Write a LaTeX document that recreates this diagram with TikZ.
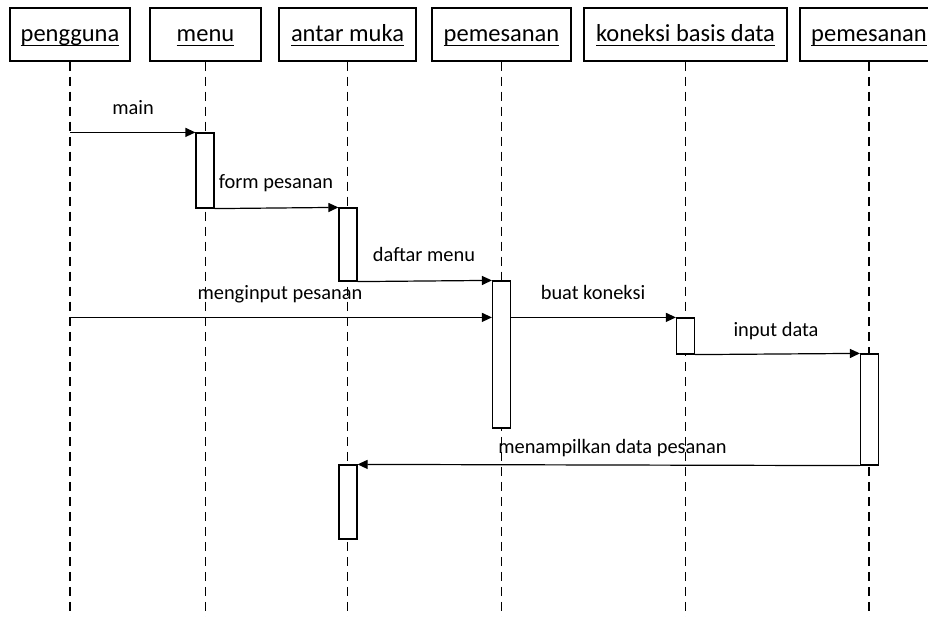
\documentclass[tikz,border=0pt]{standalone}
\usepackage{fontspec}
\setmainfont{Carlito}
\usetikzlibrary{arrows.meta}
\newcommand{\hdrtext}[1]{\setbox0\hbox{#1}\rlap{\rule[-4pt]{\wd0}{1.2pt}}\box0}
\begin{document}
\begin{tikzpicture}[x=1pt, y=-1pt, line width=1.2pt]
        \tikzset{>={Triangle[length=10pt,width=9pt]}}
        \tikzset{obj/.style={draw, rectangle, minimum height=53pt, inner sep=0pt, line width=1.5pt,
                 text height=18pt, text depth=3pt, font=\fontsize{24.5}{28}\selectfont}}
        \tikzset{act/.style={draw, fill=white, rectangle, minimum width=18pt, inner sep=0pt}}
        \tikzset{msg/.style={anchor=base, inner sep=0pt, font=\fontsize{20.4}{24}\selectfont}}
        \tikzset{life/.style={dash pattern=on 9pt off 6pt}}
        \clip (0,0) rectangle (928,617);
        % objects
        \node[obj, minimum width=120pt] (pengguna) at (70,34.5) {\hdrtext{pengguna}};
        \node[obj, minimum width=111pt] (menu) at (205.5,34.5) {\hdrtext{menu}};
        \node[obj, minimum width=137pt] (antarmuka) at (347.5,34.5) {\hdrtext{antar muka}};
        \node[obj, minimum width=139pt] (pemesanan) at (501.5,34.5) {\hdrtext{pemesanan}};
        \node[obj, minimum width=203pt] (koneksi) at (685.5,34.5) {\hdrtext{koneksi basis data}};
        \node[obj, minimum width=138pt] (pemesananb) at (869,34.5) {\hdrtext{pemesanan}};
        % lifelines
        \foreach \o in {pengguna, menu, antarmuka, pemesanan, koneksi, pemesananb}
            \draw[life] (\o.south) -- (\o.south |- 0,620);
        % activations
        \node[act, minimum height=75pt] (actmenu) at (205,170.5) {};
        \node[act, minimum height=73pt] (actantar) at (348,244.5) {};
        \node[act, minimum height=147pt] (actpesan) at (501.5,354.5) {};
        \node[act, minimum height=36pt] (actkoneksi) at (685.5,336) {};
        \node[act, minimum height=111pt] (actpesanb) at (869.5,409.5) {};
        \node[act, minimum height=74pt] (actantarb) at (348,502) {};
        \coordinate (Smain) at (pengguna.south |- actmenu.north);
        \coordinate (Sinput) at (pengguna.south |- actkoneksi.north);
        % messages
        \draw[->] (Smain) -- (actmenu.north west);
        \draw[->] (actmenu.south east) -- (actantar.north west);
        \draw[->] (actantar.south east) -- (actpesan.north west);
        \draw[->] (Sinput) -- (actpesan.west |- Sinput);
        \draw[->] (actpesan.east |- Sinput) -- (actkoneksi.north west);
        \draw[->] (actkoneksi.south east) -- (actpesanb.north west);
        \draw[->] (actpesanb.south west) -- (actantarb.north east);
        \node[msg] (Lmain) at (133,115) {main};
        \node[msg] (Lform) at (276,189) {form pesanan};
        \node[msg] (Ldaftar) at (424,262) {daftar menu};
        \node[msg] (Linput) at (280,299) {menginput pesanan};
        \node[msg] (Lkoneksi) at (593,299) {buat koneksi};
        \node[msg] (Ldata) at (776,336) {input data};
        \node[msg] (Ltampil) at (612.5,453) {menampilkan data pesanan};
    \end{tikzpicture}
\end{document}
